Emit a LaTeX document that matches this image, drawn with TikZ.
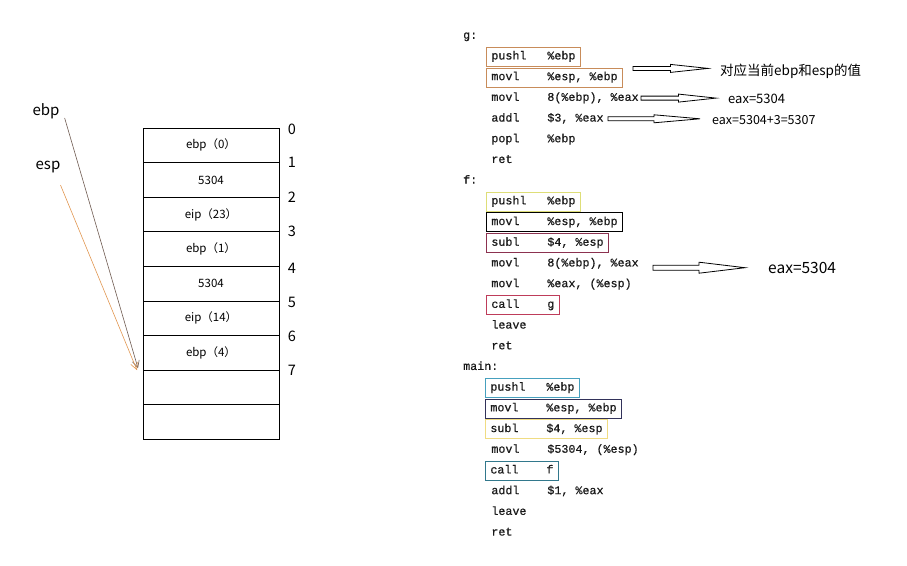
\documentclass[tikz,border=0pt]{standalone}
\usepackage{fontspec}
\setmonofont[FakeBold=0.6]{Liberation Mono}
\newfontfamily\cjk{Noto Sans CJK SC}
\usetikzlibrary{calc,arrows.meta}
\definecolor{gbox}{RGB}{200,140,90}
\definecolor{fpush}{RGB}{222,222,120}
\definecolor{fsub}{RGB}{140,50,80}
\definecolor{fcall}{RGB}{190,60,90}
\definecolor{mpush}{RGB}{70,160,190}
\definecolor{mmov}{RGB}{50,50,90}
\definecolor{msub}{RGB}{240,220,130}
\definecolor{mcall}{RGB}{50,120,140}
\definecolor{ebparrow}{RGB}{110,90,80}
\definecolor{esparrow}{RGB}{225,150,80}
\newcommand\mnem[1]{\makebox[56pt][l]{#1}}
\newcommand\hollowarrow[4]{%
  \draw[line width=0.8pt, fill=white] let \p1=#1, \p2=#2, \n1={(\x1+\x2)/2} in
    (\x1,\y1+#3pt) -- (\n1,\y1+#3pt) -- (\n1,\y1+#4pt) -- (\x2,\y1)
    -- (\n1,\y1-#4pt) -- (\n1,\y1-#3pt) -- (\x1,\y1-#3pt) -- cycle;}
\begin{document}
\begin{tikzpicture}[x=1pt,y=-1pt,
  cell/.style={draw, line width=0.8pt, minimum width=136pt, minimum height=34.6pt,
    inner sep=0pt, outer sep=0pt, anchor=north west, font=\cjk\fontsize{11.5}{13}\selectfont},
  num/.style={font=\cjk\fontsize{14.5}{16}\selectfont, inner sep=1pt},
  reg/.style={font=\cjk\fontsize{15}{17}\selectfont, inner sep=1pt},
  code/.style={anchor=west, inner xsep=5pt, inner ysep=0pt, text height=8pt, text depth=2.5pt,
    minimum height=19pt, font=\ttfamily\fontsize{11.7}{12}\selectfont, text=black!90, line width=0.8pt},
  fname/.style={anchor=west, inner sep=0pt, text height=8pt, text depth=2.5pt,
    font=\ttfamily\fontsize{11.7}{12}\selectfont, text=black!90},
  note/.style={anchor=west, inner sep=0pt, font=\cjk\fontsize{#1}{#1}\selectfont},
  ptr/.style={line width=0.6pt, -{Straight Barb[length=7pt,width=7pt]}}
]
\useasboundingbox (0,0) rectangle (907,565);

% ---- stack ----
\node[cell] (c0) at (143,128.0) {ebp（0）};
\node[cell] (c1) at (143,162.6) {5304};
\node[cell] (c2) at (143,197.2) {eip（23）};
\node[cell] (c3) at (143,231.8) {ebp（1）};
\node[cell] (c4) at (143,266.4) {5304};
\node[cell] (c5) at (143,301.0) {eip（14）};
\node[cell] (c6) at (143,335.6) {ebp（4）};
\node[cell] (c7) at (143,370.2) {};
\node[cell] (c8) at (143,404.8) {};

\node[num] (n0) at (292,129) {0};
\node[num] (n1) at (292,162) {1};
\node[num] (n2) at (292,197) {2};
\node[num] (n3) at (292,231) {3};
\node[num] (n4) at (292,268) {4};
\node[num] (n5) at (292,302) {5};
\node[num] (n6) at (292,336) {6};
\node[num] (n7) at (292,370) {7};

\node[reg] (ebp) at (46,111) {ebp};
\node[reg] (esp) at (48,167) {esp};
\coordinate (tipA) at ($(c7.north west)+(-5,-2)$);
\coordinate (tipB) at ($(c7.north west)+(-6,0)$);
\draw[ptr, draw=ebparrow] ($(ebp.east)+(4,7)$) -- (tipA);
\draw[ptr, draw=esparrow] ($(esp.south east)+(-1,11)$) -- (tipB);

% ---- code ----
\node[fname] (gname) at (463,36.0) {g:};
\node[code, draw=gbox] (g1) at (486,56.7) {\mnem{pushl}\%ebp};
\node[code, draw=gbox] (g2) at (486,77.4) {\mnem{movl}\%esp, \%ebp};
\node[code] (g3) at (486,98.1) {\mnem{movl}8(\%ebp), \%eax};
\node[code] (g4) at (486,118.8) {\mnem{addl}\$3, \%eax};
\node[code] (g5) at (486,139.5) {\mnem{popl}\%ebp};
\node[code] (g6) at (486,160.2) {ret};

\node[fname] (fname) at (463,180.9) {f:};
\node[code, draw=fpush] (f1) at (486,201.6) {\mnem{pushl}\%ebp};
\node[code, draw=black] (f2) at (486,222.3) {\mnem{movl}\%esp, \%ebp};
\node[code, draw=fsub] (f3) at (486,243.0) {\mnem{subl}\$4, \%esp};
\node[code] (f4) at (486,263.7) {\mnem{movl}8(\%ebp), \%eax};
\node[code] (f5) at (486,284.4) {\mnem{movl}\%eax, (\%esp)};
\node[code, draw=fcall] (f6) at (486,305.1) {\mnem{call}g};
\node[code] (f7) at (486,325.8) {leave};
\node[code] (f8) at (486,346.5) {ret};

\node[fname] (mname) at (463,367.2) {main:};
\node[code, draw=mpush] (m1) at (485,387.9) {\mnem{pushl}\%ebp};
\node[code, draw=mmov] (m2) at (485,408.6) {\mnem{movl}\%esp, \%ebp};
\node[code, draw=msub] (m3) at (485,429.3) {\mnem{subl}\$4, \%esp};
\node[code] (m4) at (486,450.0) {\mnem{movl}\$5304, (\%esp)};
\node[code, draw=mcall] (m5) at (485,470.7) {\mnem{call}f};
\node[code] (m6) at (486,491.4) {\mnem{addl}\$1, \%eax};
\node[code] (m7) at (486,512.1) {leave};
\node[code] (m8) at (486,532.8) {ret};

% ---- notes ----
\node[note=13.5] (t1) at (720,71) {对应当前ebp和esp的值};
\node[note=13] (t2) at (728,99) {eax=5304};
\node[note=12.5] (t3) at (712,120) {eax=5304+3=5307};
\node[note=15.5] (t4) at (768,268) {eax=5304};

\hollowarrow{($(g2.east)+(10,-9)$)}{($(t1.west)+(-12,0)$)}{2}{4}
\hollowarrow{($(g3.east)+(-3,0)$)}{($(t2.west)+(-12,0)$)}{2}{4}
\hollowarrow{($(g4.east)+(-1,0)$)}{($(t3.west)+(-12,0)$)}{2}{4}
\hollowarrow{($(f4.east)+(9,4)$)}{($(t4.west)+(-23,0)$)}{2.5}{5.5}
\end{tikzpicture}
\end{document}
